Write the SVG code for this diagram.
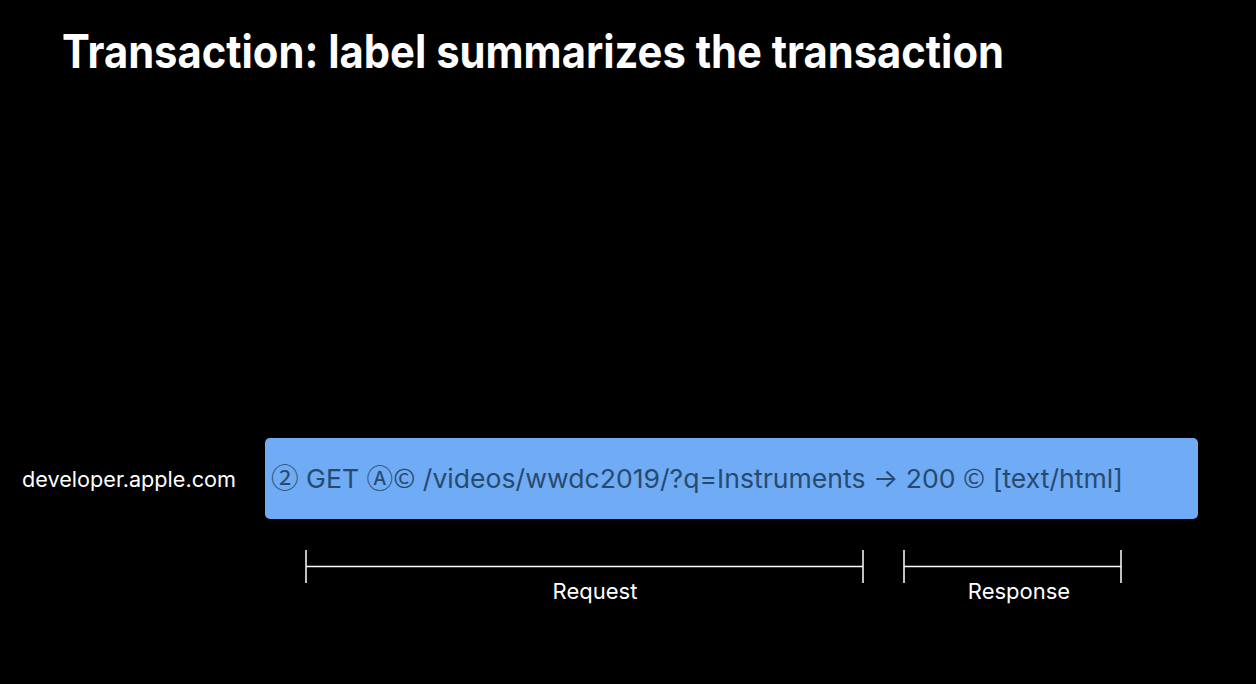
<svg xmlns="http://www.w3.org/2000/svg" width="1256" height="684" viewBox="0 0 1256 684">
<style>
.t{font-family:Inter,"Noto Sans","DejaVu Sans",sans-serif;fill:#ffffff}
.title{font-size:46px;font-weight:700}
.lbl{font-size:22px}
.box{fill:#70abf5}
.boxt{font-family:Inter,"Noto Sans","DejaVu Sans",sans-serif;font-size:26px;fill:#284a6e}
.sym{font-family:"Noto Sans CJK JP",sans-serif;font-size:26px}
.sym2{font-family:"Noto Sans CJK JP",sans-serif;font-size:27px}
.br{stroke:#ffffff;stroke-width:1.5;fill:none}
</style>
<rect width="1256" height="684" fill="#000000"/>
<g id="title"><text class="t title" x="62" y="68" textLength="942" lengthAdjust="spacingAndGlyphs">Transaction: label summarizes the transaction</text></g>
<g id="host"><text class="t lbl" x="22" y="487" style="font-size:21px" textLength="214" lengthAdjust="spacingAndGlyphs">developer.apple.com</text></g>
<g id="transaction">
<rect class="box" x="265" y="438" width="933" height="81" rx="5"/>
<text class="boxt" x="271" y="488" textLength="852" lengthAdjust="spacingAndGlyphs"><tspan class="sym2">②</tspan> GET <tspan class="sym">Ⓐ©</tspan> /videos/wwdc2019/?q=Instruments → 200 <tspan class="sym">©</tspan> [text/html]</text>
</g>
<g id="connectors">
<path class="br" d="M306 550V583M306 566.5H863M863 550V583"/>
<path class="br" d="M904 550V583M904 566.5H1121M1121 550V583"/>
</g>
<g id="request"><text class="t lbl" x="595" y="599" text-anchor="middle">Request</text></g>
<g id="response"><text class="t lbl" x="1019" y="599" text-anchor="middle">Response</text></g>
</svg>
